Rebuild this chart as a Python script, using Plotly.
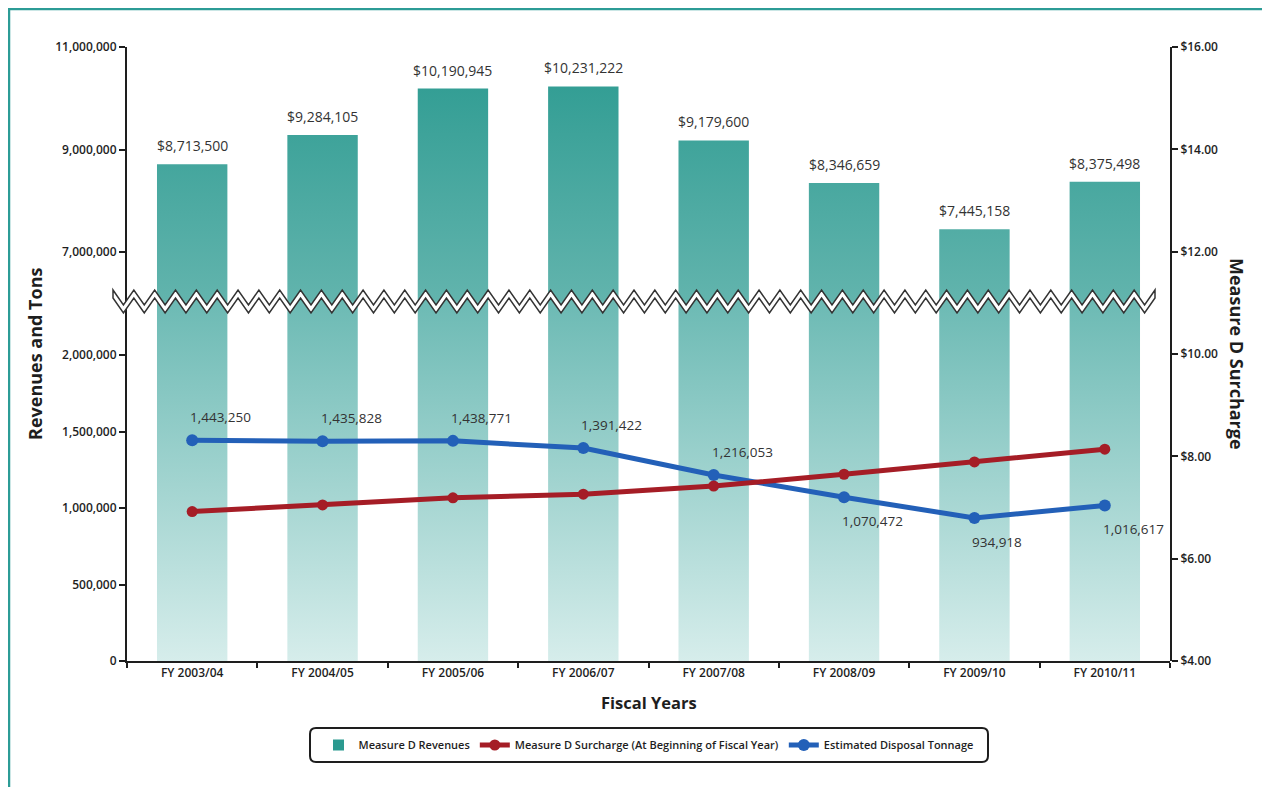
import plotly.graph_objects as go

years = ['FY 2003/04', 'FY 2004/05', 'FY 2005/06', 'FY 2006/07',
         'FY 2007/08', 'FY 2008/09', 'FY 2009/10', 'FY 2010/11']
revenues = [8713500, 9284105, 10190945, 10231222, 9179600, 8346659,
            7445158, 8375498]
surcharge = [6.92, 7.05, 7.19, 7.26, 7.42, 7.65, 7.89, 8.14]
tonnage = [1443250, 1435828, 1438771, 1391422, 1216053, 1070472, 934918,
           1016617]

# plot area in screen pixels; the page body adds an 8px offset
OFF = 8
L, R, T, B = 127, 1170, 47, 661
W, H = R - L, B - T


def px(x):
    return (x - L) / W


def py(y):
    return (B - y) / H


# broken left axis: 0-2M below the break, ~6M-11M above it
BREAK = 301
lo_top = 2000000 * (B - BREAK) / (B - 355)
up_bot = 11000000 - (BREAK - T) / 51.3 * 1e6

teal = '#2b9a90'
red = '#a51d26'
blue = '#2360b8'
ink = '#1e1e1e'

idx = list(range(len(years)))
hw = 0.27
bx, by = [], []
for i, v in zip(idx, revenues):
    bx += [i - hw, i - hw, i + hw, i + hw, None]
    by += [0, v, v, 0, None]

fig = go.Figure()

# legend entry for the bars
fig.add_trace(go.Scatter(x=[None], y=[None], mode='markers',
                         marker=dict(symbol='square', size=11, color=teal),
                         name='Measure D Revenues'))

# bars, lower and upper part of the broken axis
fig.add_trace(go.Scatter(x=bx, y=by, mode='none', fill='toself',
                         fillgradient=dict(type='vertical', start=0, stop=lo_top,
                                           colorscale=[[0, '#d6edeb'], [1, '#6cbab4']]),
                         showlegend=False, hoverinfo='skip',
                         xaxis='x', yaxis='y'))
fig.add_trace(go.Scatter(x=bx, y=by, mode='none', fill='toself',
                         fillgradient=dict(type='vertical', start=up_bot, stop=11000000,
                                           colorscale=[[0, '#62b4ad'], [1, teal]]),
                         showlegend=False, hoverinfo='skip',
                         xaxis='x', yaxis='y3'))

fig.add_trace(go.Scatter(x=idx, y=surcharge, mode='lines+markers',
                         line=dict(color=red, width=5),
                         marker=dict(size=11, color=red),
                         name='Measure D Surcharge (At Beginning of Fiscal Year)',
                         xaxis='x', yaxis='y2'))
fig.add_trace(go.Scatter(x=idx, y=tonnage, mode='lines+markers',
                         line=dict(color=blue, width=5),
                         marker=dict(size=12, color=blue),
                         name='Estimated Disposal Tonnage',
                         xaxis='x', yaxis='y'))

annotations = []
for i, v in zip(idx, revenues):
    annotations.append(dict(x=i, y=v, xref='x', yref='y3', text=f'${v:,}',
                            showarrow=False, yanchor='bottom', yshift=7,
                            font=dict(size=14, color='#333')))

label_side = ['top', 'top', 'top', 'top', 'top', 'bottom', 'bottom', 'bottom']
for i, v, side in zip(idx, tonnage, label_side):
    annotations.append(dict(x=i, y=v, xref='x', yref='y', text=f'{v:,}',
                            showarrow=False, xanchor='left', xshift=-4,
                            yanchor='bottom' if side == 'top' else 'top',
                            yshift=12 if side == 'top' else -13,
                            font=dict(size=13.5, color='#333')))

annotations.append(dict(x=px(35), y=0.5, xref='paper', yref='paper',
                        xanchor='center', yanchor='middle',
                        text='Revenues and Tons', textangle=-90,
                        showarrow=False,
                        font=dict(size=18, color=ink, weight=700)))
annotations.append(dict(x=px(1237), y=0.5, xref='paper', yref='paper',
                        xanchor='center', yanchor='middle',
                        text='Measure D Surcharge', textangle=90,
                        showarrow=False,
                        font=dict(size=18, color=ink, weight=700)))
annotations.append(dict(x=0.5, y=py(702), xref='paper', yref='paper',
                        xanchor='center', yanchor='middle',
                        text='Fiscal Years', showarrow=False,
                        font=dict(size=16.5, color=ink, weight=700)))

# zigzag break band
n = 50
zx0, zx1 = 113, 1155
step = (zx1 - zx0) / (2 * n)
top = [(px(zx0 + k * step), py(290 if k % 2 == 0 else 305))
       for k in range(2 * n + 1)]
bot = [(x, y - 8 / H) for x, y in top]
zig = 'M ' + ' L '.join(f'{x:.5f},{y:.5f}' for x, y in top + bot[::-1]) + ' Z'


def rounded_box(x0, y0, x1, y1, r):
    rx, ry = r / W, r / H
    a, b, c, d = px(x0), py(y0), px(x1), py(y1)
    return (f'M {a + rx},{b} L {c - rx},{b} Q {c},{b} {c},{b - ry} '
            f'L {c},{d + ry} Q {c},{d} {c - rx},{d} L {a + rx},{d} '
            f'Q {a},{d} {a},{d + ry} L {a},{b - ry} Q {a},{b} {a + rx},{b} Z')


frame = (f'M {px(9)},{py(800)} L {px(9)},{py(9)} L {px(1264)},{py(9)} '
         f'L {px(1264)},{py(800)}')

shapes = [
    dict(type='path', path=zig, xref='paper', yref='paper',
         fillcolor='white', line=dict(color='#333', width=1.5), layer='above'),
    dict(type='path', path=rounded_box(310, 728, 988, 762, 6),
         xref='paper', yref='paper', line=dict(color=ink, width=2)),
    dict(type='path', path=frame, xref='paper', yref='paper',
         line=dict(color='#2c9c96', width=2.5)),
]

tick_font = dict(size=12, color=ink, weight=600)
yaxis_common = dict(showline=True, linecolor=ink, linewidth=2, ticks='outside',
                    ticklen=6, tickwidth=1.5, tickcolor=ink, showgrid=False,
                    zeroline=False, tickfont=tick_font, anchor='x')

fig.update_layout(
    width=1270, height=787,
    margin=dict(l=L - OFF, r=1270 - (R - OFF), t=T - OFF, b=787 - (B - OFF)),
    paper_bgcolor='white', plot_bgcolor='rgba(0,0,0,0)',
    font=dict(family='Open Sans', size=12, color=ink),
    xaxis=dict(range=[-0.5, 7.5], tickvals=idx, ticktext=years, ticks='',
               showline=True, linecolor=ink, linewidth=2, showgrid=False,
               zeroline=False, tickfont=tick_font,
               minor=dict(ticks='outside', tick0=0.5, dtick=1, ticklen=5,
                          tickwidth=1.5, tickcolor=ink, showgrid=False)),
    yaxis=dict(domain=[0, py(BREAK)], range=[0, lo_top],
               tickvals=[0, 500000, 1000000, 1500000, 2000000],
               tickformat=',d', **yaxis_common),
    yaxis3=dict(domain=[py(BREAK), 1], range=[up_bot, 11000000],
                tickvals=[7000000, 9000000, 11000000], tickformat=',d',
                **yaxis_common),
    yaxis2=dict(domain=[0, 1], range=[4, 16], side='right',
                tickvals=[4, 6, 8, 10, 12, 14, 16], tickformat='$.2f',
                **yaxis_common),
    legend=dict(orientation='h', x=0.5, xanchor='center', y=py(745),
                yanchor='middle', bgcolor='rgba(0,0,0,0)',
                font=dict(size=11, color=ink, weight=600)),
    annotations=annotations,
    shapes=shapes,
)

fig.write_html('out.html')
